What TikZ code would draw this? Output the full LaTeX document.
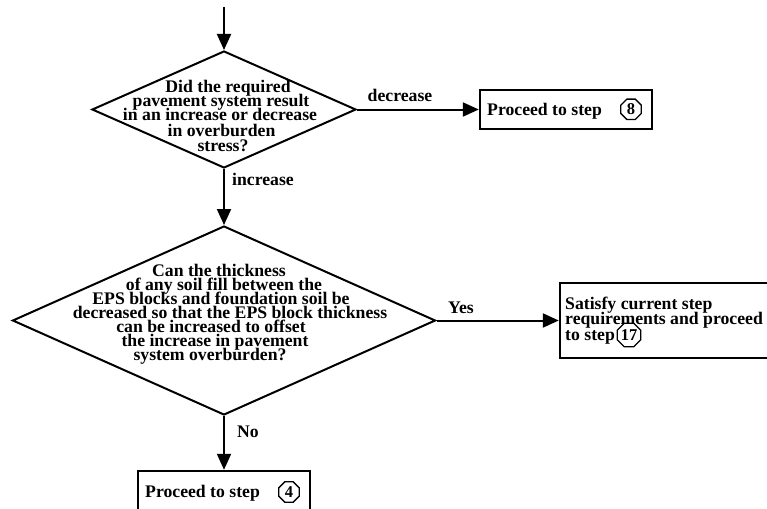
\documentclass[tikz,border=0pt]{standalone}
\usepackage{fontspec}
\setmainfont{Liberation Serif}
\usetikzlibrary{shapes.geometric,arrows.meta,calc}
\begin{document}
\begin{tikzpicture}[x=1pt,y=-1pt,
  every node/.style={font=\bfseries\fontsize{17.7}{14}\selectfont},
  txt/.style={inner sep=0pt,anchor=base},
  ltxt/.style={inner sep=0pt,anchor=base west},
  decision/.style={diamond,draw,line width=2pt,inner sep=0pt},
  stepbox/.style={rectangle,draw,line width=2.4pt,inner sep=0pt},
  stepmark/.style={regular polygon,regular polygon sides=8,draw,line width=1.3pt,
    minimum size=22pt,inner sep=0pt,font=\bfseries\fontsize{16.5}{16.5}\selectfont},
  flow/.style={line width=2pt,-{Triangle[length=16pt,width=14pt]}}
]
\useasboundingbox (0,0) rectangle (767,508);
\clip (0,0) rectangle (767,508);

% decision shapes
\node[decision,minimum width=264pt,minimum height=117pt] (d1) at (224,109.5) {};
\node[decision,minimum width=423pt,minimum height=189pt] (d2) at (224,320.5) {};

% outcome boxes
\node[stepbox,minimum width=172pt,minimum height=39pt] (b1) at (566,109.5) {};
\node[stepbox,minimum width=240pt,minimum height=75pt] (b2) at (680,320.5) {};
\node[stepbox,minimum width=172pt,minimum height=40pt] (b3) at (224,491) {};

% text of the first question
\node[txt] (q1a) at (228,92.7)  {Did the required};
\node[txt] (q1b) at (221,106.7) {pavement system result};
\node[txt] (q1c) at (220,120.7) {in an increase or decrease};
\node[txt] (q1d) at (221.5,136) {in overburden};
\node[txt] (q1e) at (223,151)   {stress?};

% text of the second question
\node[txt] (q2a) at (219,276)   {Can the thickness};
\node[txt] (q2b) at (224,290.5) {of any soil fill between the};
\node[txt] (q2c) at (221,304)   {EPS blocks and foundation soil be};
\node[txt] (q2d) at (230,318.3) {decreased so that the EPS block thickness};
\node[txt] (q2e) at (211,332)   {can be increased to offset};
\node[txt] (q2f) at (215,346)   {the increase in pavement};
\node[txt] (q2g) at (210,360)   {system overburden?};

% box texts
\node[ltxt] (t1) at (487,115) {Proceed to step};
\node[stepmark] (s8) at (631,109.3) {8};
\node[ltxt] (t2a) at (565,309) {Satisfy current step};
\node[ltxt] (t2b) at (565,324.5) {requirements and proceed};
\node[ltxt] (t2c) at (565,340) {to step};
\node[stepmark] (s17) at (629,335) {17};
\node[ltxt] (t3) at (145,497) {Proceed to step};
\node[stepmark] (s4) at (289,492) {4};

% connectors
\coordinate (start) at (224,7);
\draw[flow] (start) -- (d1.north);
\draw[flow] (d1.east) -- (b1.west);
\draw[flow] (d1.south) -- (d2.north);
\draw[flow] (d2.east) -- (b2.west);
\draw[flow] (d2.south) -- (b3.north);

% branch labels
\node[txt] (ldec) at (400,102) {decrease};
\node[ltxt] (linc) at (232,185) {increase};
\node[ltxt] (lyes) at (448,313) {Yes};
\node[ltxt] (lno) at (237,437) {No};
\end{tikzpicture}
\end{document}
